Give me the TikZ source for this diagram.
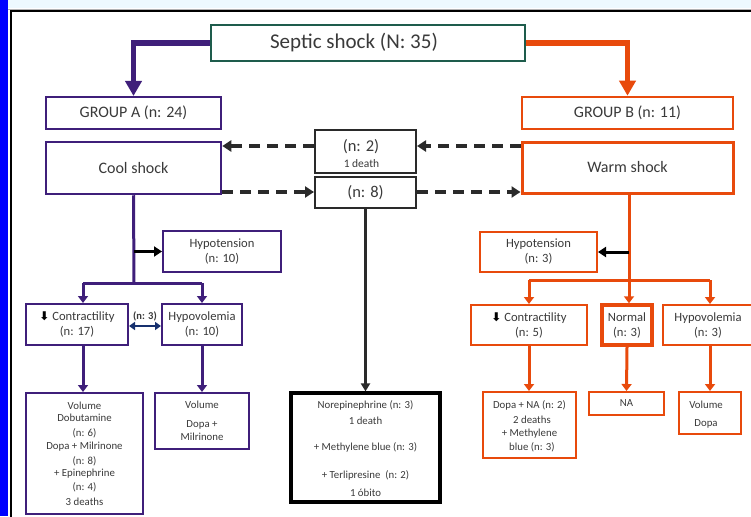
\documentclass[tikz,border=0pt]{standalone}
\usepackage{fontspec}
\setmainfont{Carlito}
\newfontfamily\djv{DejaVu Sans}
\usetikzlibrary{arrows.meta,calc}
\definecolor{purp}{RGB}{63,31,122}
\definecolor{orng}{RGB}{232,74,12}
\definecolor{grn}{RGB}{30,92,76}
\definecolor{dgray}{RGB}{42,42,42}
\definecolor{txt}{RGB}{58,58,58}
\definecolor{navy}{RGB}{22,48,110}
\newcommand{\dnarrow}{{\djv\bfseries\fontsize{12}{12}\selectfont\textcolor{black}{⬇}}}
\tikzset{
  box/.style args={#1/#2}{draw, minimum width=#1pt, minimum height=#2pt, inner sep=0pt, text=txt, align=center, fill=white},
  pbox/.style={box=#1, draw=purp, line width=2pt},
  obox/.style={box=#1, draw=orng, line width=2.5pt},
  gbox/.style={box=#1, draw=dgray, line width=2pt},
  f16/.style={font=\fontsize{16}{18}\selectfont},
  f12/.style={font=\fontsize{12.6}{15}\selectfont},
  f11/.style={font=\fontsize{11}{13}\selectfont},
  lbl/.style={inner sep=0pt, text=txt, font=\fontsize{10.8}{12}\selectfont},
  bigarr/.style={line width=5.5pt, -{Triangle[length=15pt,width=16pt]}},
  brline/.style={line width=3pt},
  brarr/.style={line width=3pt, -{Triangle[length=7pt,width=10pt]}},
  blkarr/.style={line width=3pt, draw=black, -{Triangle[length=8pt,width=10pt]}},
  dasharr/.style={draw=dgray, line width=4pt, dash pattern=on 11pt off 7pt, -{Triangle[length=9pt,width=11pt]}}
}
\begin{document}
\begin{tikzpicture}[x=1pt,y=-1pt]
\useasboundingbox (0,0) rectangle (751,516);
\clip (0,0) rectangle (751,516);
% page decorations
\fill[cyan!7] (8,0) rectangle (751,8);
\draw[gray!60, line width=0.8pt] (8,9) -- (751,9);
\fill[blue] (0,0) rectangle (7.5,516);
\draw[black, line width=1.6pt] (10.8,520) -- (10.8,11) -- (760,11);

% nodes
\node[box=314/36, draw=grn, line width=1.6pt] (septic) at (368,43) {};
\node[inner sep=0pt, text=txt, font=\fontsize{21}{24}\selectfont] (septicT) at (354,43) {Septic shock (N: 35)};
\node[pbox=175/32, f16] (grpA) at (133.5,113) {GROUP A (n: 24)};
\node[pbox=175/52, line width=2.5pt, f16] (cool) at (133.5,168) {Cool shock};
\node[obox=211/32, f16] (grpB) at (627.5,113) {GROUP B (n: 11)};
\node[obox=211/51, line width=3pt, f16] (warm) at (627.5,167.5) {Warm shock};
\node[gbox=101/43] (n2) at (365.5,151.5) {};
\node[lbl, font=\fontsize{16.5}{18}\selectfont] (n2t) at (361,146.5) {(n: 2)};
\node[lbl, font=\fontsize{11.5}{13}\selectfont] (n2d) at (361.5,163.5) {1 death};
\node[gbox=101/31, font=\fontsize{16.5}{18}\selectfont] (n8) at (365.5,192.5) {(n: 8)};

\node[pbox=118/41, f12] (hypoA) at (222,251.5) {Hypotension\\(n: 10)};
\node[pbox=102/41, f12] (contrA) at (77,324.5) {\dnarrow\ Contractility\\(n: 17)};
\node[pbox=80/41, f12] (hypovA) at (202,324.5) {Hypovolemia\\(n: 10)};
\node[pbox=117/121] (volA) at (84.5,453.5) {};
\foreach \t/\yy [count=\i] in {Volume/406,Dobutamine/418,(n: 6)/433,Dopa + Milrinone/447,(n: 8)/461,+ Epinephrine/474,(n: 4)/487,3 deaths/502}
  \node[lbl] (volA\i) at (84.5,\yy) {\t};
\node[pbox=94/56] (volB) at (202,421) {};
\foreach \t/\yy [count=\i] in {Volume/405,Dopa +/425,Milrinone/437}
  \node[lbl] (volB\i) at (202,\yy) {\t};

\node[box=149/109, draw=black, line width=3.2pt] (nore) at (365.5,447.5) {};
\foreach \t/\yy [count=\i] in {Norepinephrine (n: 3)/405,1 death/421,+ Methylene blue (n: 3)/447,+ Terlipresine\ \ (n: 2)/475,1 óbito/493}
  \node[lbl] (nore\i) at (365.5,\yy) {\t};

\node[obox=117/40, line width=2pt, f12] (hypoB) at (538.5,252) {Hypotension\\(n: 3)};
\node[obox=116/40, line width=2pt, f12] (contrB) at (529,325) {\dnarrow\ Contractility\\(n: 5)};
\node[obox=50/40, line width=3.5pt, f12] (normal) at (627,325) {Normal\\(n: 3)};
\node[obox=90/40, line width=2pt, f12] (hypovB) at (708,325) {Hypovolemia\\(n: 3)};
\node[obox=93/66, line width=2pt] (dopaNA) at (529.5,425) {};
\foreach \t/\yy [count=\i] in {Dopa + NA (n: 2)/405,\ \ 2 deaths/420,+ Methylene/434,\ \ blue (n: 3)/447}
  \node[lbl] (dna\i) at (529.5,\yy) {\t};
\node[obox=75/23, line width=2pt, font=\fontsize{10.8}{12}\selectfont] (NA) at (626.5,403.5) {NA};
\node[obox=62/42, line width=2pt] (volD) at (710,413) {};
\node[lbl] (volD1) at (706,405) {Volume};
\node[lbl] (volD2) at (706,424) {Dopa};

% coordinates
\coordinate (d1) at (0,146);
\coordinate (d2) at (0,192);
\coordinate (brA) at (134,283);
\coordinate (xA1) at (83,0);
\coordinate (xA2) at (202,0);
\coordinate (brB) at (629,280);
\coordinate (xB1) at (529,0);
\coordinate (xB3) at (710,0);

% top connectors
\draw[bigarr, draw=purp] (septic.west) -| (grpA.north);
\draw[bigarr, draw=orng] (septic.east) -| (grpB.north);

% dashed
\draw[dasharr] (n2.west |- d1) -- (cool.east |- d1);
\draw[dasharr] (warm.west |- d1) -- (n2.east |- d1);
\draw[dasharr] (cool.east |- d2) -- (n8.west |- d2);
\draw[dasharr] (n8.east |- d2) -- (warm.west |- d2);

% center branch
\draw[line width=2.5pt, draw=dgray, -{Triangle[length=8pt,width=9pt]}] (n8.south) -- (nore.north);

% group A branches
\draw[brline, draw=purp] (cool.south) -- (brA);
\draw[blkarr] (brA |- hypoA.west) -- (hypoA.west);
\draw[brline, draw=purp] (xA1 |- brA) -- (xA2 |- brA);
\draw[brarr, draw=purp] (xA1 |- brA) -- (xA1 |- contrA.north);
\draw[brarr, draw=purp] (xA2 |- brA) -- (xA2 |- hypovA.north);
\draw[line width=2.5pt, draw=navy, {Triangle[length=6pt,width=8pt]}-{Triangle[length=6pt,width=8pt]}] ($(contrA.east)+(0,1.5)$) -- ($(hypovA.west)+(0,1.5)$);
\node[inner sep=0pt, text=txt, font=\bfseries\fontsize{10.5}{12}\selectfont] (n3lbl) at (145,316) {(n: 3)};
\draw[brarr, draw=purp] (xA1 |- contrA.south) -- (xA1 |- volA.north);
\draw[brarr, draw=purp] (xA2 |- hypovA.south) -- (xA2 |- volB.north);

% group B branches
\draw[brline, draw=orng] (warm.south -| brB) -- (brB);
\draw[blkarr] (brB |- hypoB.east) -- (hypoB.east);
\draw[brline, draw=orng] (xB1 |- brB) -- (xB3 |- brB);
\draw[brarr, draw=orng] (xB1 |- brB) -- (xB1 |- contrB.north);
\draw[brarr, draw=orng] (brB) -- (brB |- normal.north);
\draw[brarr, draw=orng] (xB3 |- brB) -- (xB3 |- hypovB.north);
\draw[brarr, draw=orng] (xB1 |- contrB.south) -- (xB1 |- dopaNA.north);
\draw[brarr, draw=orng] (normal.south) -- (NA.north);
\draw[brarr, draw=orng] (xB3 |- hypovB.south) -- (xB3 |- volD.north);
\end{tikzpicture}
\end{document}
